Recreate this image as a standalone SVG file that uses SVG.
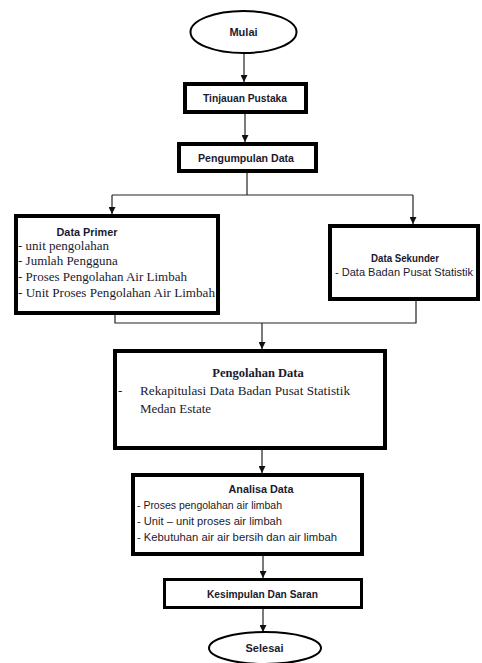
<svg xmlns="http://www.w3.org/2000/svg" width="482" height="663" viewBox="0 0 482 663">
<defs>
<marker id="arr" viewBox="0 0 8 8" refX="8" refY="4" markerWidth="7" markerHeight="7" markerUnits="userSpaceOnUse" orient="auto">
<path d="M0,0 L8,4 L0,8 Z" fill="#111"/>
</marker>
<style>
.box{fill:#fff;stroke:#000;stroke-width:4}
.ell{fill:#fff;stroke:#000;stroke-width:2}
.sb{font-family:"Liberation Sans",Arial,sans-serif;font-weight:bold;font-size:11px;fill:#1a1a2e}
.s{font-family:"Liberation Sans",Arial,sans-serif;font-size:11px;fill:#1a1a2e}
.tb{font-family:"Liberation Serif","Times New Roman",serif;font-weight:bold;font-size:12.5px;fill:#1a1a2e}
.t{font-family:"Liberation Serif","Times New Roman",serif;font-size:13px;fill:#1a1a2e}
.ln{fill:none;stroke:#222;stroke-width:1.2}
</style>
</defs>
<rect width="482" height="663" fill="#fff"/>
<g id="connectors">
<line class="ln" x1="244" y1="53" x2="244" y2="82" marker-end="url(#arr)"/>
<line class="ln" x1="245" y1="114" x2="245" y2="142" marker-end="url(#arr)"/>
<polyline class="ln" points="247,173 247,195"/>
<polyline class="ln" points="112,195 413,195"/>
<line class="ln" x1="112" y1="195" x2="112" y2="214" marker-end="url(#arr)"/>
<line class="ln" x1="413" y1="195" x2="413" y2="224" marker-end="url(#arr)"/>
<polyline class="ln" points="115,315 115,323 416,323 416,301"/>
<line class="ln" x1="262" y1="323" x2="262" y2="349" marker-end="url(#arr)"/>
<line class="ln" x1="262" y1="450" x2="262" y2="473" marker-end="url(#arr)"/>
<line class="ln" x1="263" y1="556" x2="263" y2="578" marker-end="url(#arr)"/>
<line class="ln" x1="263" y1="609" x2="263" y2="632" marker-end="url(#arr)"/>
</g>
<g id="mulai">
<ellipse class="ell" cx="243.5" cy="32" rx="53" ry="21"/>
<text class="sb" x="243.5" y="36" text-anchor="middle">Mulai</text>
</g>
<g id="tinjauan">
<rect class="box" x="185" y="84" width="121" height="28"/>
<text class="sb" x="245" y="102" text-anchor="middle" textLength="84" lengthAdjust="spacingAndGlyphs">Tinjauan Pustaka</text>
</g>
<g id="pengumpulan">
<rect class="box" x="179" y="144" width="137" height="27"/>
<text class="sb" x="246" y="162" text-anchor="middle" textLength="96" lengthAdjust="spacingAndGlyphs">Pengumpulan Data</text>
</g>
<g id="data-primer">
<rect class="box" x="16" y="216" width="202" height="97"/>
<text class="sb" x="87" y="236" text-anchor="middle" textLength="61" lengthAdjust="spacingAndGlyphs">Data Primer</text>
<text class="t" x="18" y="250">- unit pengolahan</text>
<text class="t" x="18" y="265">- Jumlah Pengguna</text>
<text class="t" x="18" y="281">- Proses Pengolahan Air Limbah</text>
<text class="t" x="18" y="297" textLength="197" lengthAdjust="spacingAndGlyphs">- Unit Proses Pengolahan Air Limbah</text>
</g>
<g id="data-sekunder">
<rect class="box" x="330" y="226" width="148" height="73"/>
<text class="sb" x="405" y="262" text-anchor="middle" textLength="68" lengthAdjust="spacingAndGlyphs">Data Sekunder</text>
<text class="s" x="404" y="276" text-anchor="middle" textLength="138" lengthAdjust="spacingAndGlyphs">- Data Badan Pusat Statistik</text>
</g>
<g id="pengolahan">
<rect class="box" x="115" y="351" width="270" height="97"/>
<text class="tb" x="258" y="377" text-anchor="middle">Pengolahan Data</text>
<text class="t" x="118" y="395">-</text>
<text class="t" x="140" y="395" textLength="210" lengthAdjust="spacingAndGlyphs">Rekapitulasi Data Badan Pusat Statistik</text>
<text class="t" x="140" y="413">Medan Estate</text>
</g>
<g id="analisa">
<rect class="box" x="133" y="475" width="229" height="79"/>
<text class="sb" x="261" y="493" text-anchor="middle" textLength="65" lengthAdjust="spacingAndGlyphs">Analisa Data</text>
<text class="s" x="137" y="509" textLength="145" lengthAdjust="spacingAndGlyphs">- Proses pengolahan air limbah</text>
<text class="s" x="137" y="525" textLength="145" lengthAdjust="spacingAndGlyphs">- Unit – unit proses air limbah</text>
<text class="s" x="137" y="541" textLength="200" lengthAdjust="spacingAndGlyphs">- Kebutuhan air air bersih dan air limbah</text>
</g>
<g id="kesimpulan">
<rect class="box" x="164.5" y="579.5" width="197" height="28" style="stroke-width:3"/>
<text class="sb" x="262.5" y="598" text-anchor="middle" textLength="111" lengthAdjust="spacingAndGlyphs">Kesimpulan Dan Saran</text>
</g>
<g id="selesai">
<ellipse class="ell" cx="265" cy="648" rx="56" ry="16"/>
<text class="sb" x="264.5" y="652" text-anchor="middle">Selesai</text>
</g>
</svg>
